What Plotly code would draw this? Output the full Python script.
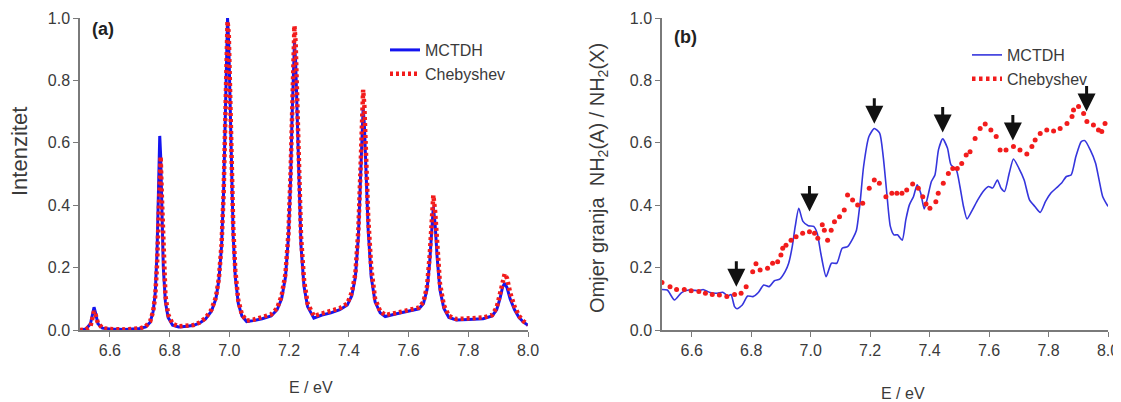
import plotly.graph_objects as go

# ---------------- Panel (a): spectra ----------------
a_x = [6.500, 6.520, 6.535, 6.542, 6.547, 6.552, 6.560, 6.575, 6.600, 6.650, 6.700, 6.720, 6.735, 6.745,
       6.752, 6.758, 6.763, 6.767, 6.770, 6.774, 6.779, 6.786, 6.795, 6.810, 6.830, 6.860, 6.880, 6.900,
       6.920, 6.940, 6.955, 6.965, 6.974, 6.981, 6.986, 6.990, 6.994, 6.998, 7.002, 7.007, 7.013, 7.020,
       7.030, 7.042, 7.058, 7.080, 7.110, 7.140, 7.160, 7.175, 7.188, 7.198, 7.205, 7.210, 7.214, 7.218,
       7.222, 7.227, 7.233, 7.240, 7.250, 7.262, 7.283, 7.310, 7.340, 7.370, 7.395, 7.410, 7.422, 7.432,
       7.439, 7.444, 7.448, 7.452, 7.458, 7.465, 7.475, 7.488, 7.505, 7.522, 7.560, 7.600, 7.635, 7.650,
       7.662, 7.671, 7.677, 7.683, 7.689, 7.696, 7.705, 7.718, 7.735, 7.760, 7.800, 7.850, 7.880, 7.895,
       7.906, 7.915, 7.922, 7.930, 7.940, 7.955, 7.970, 7.985, 8.000]
a_mctdh = [0.000, 0.003, 0.020, 0.055, 0.073, 0.055, 0.020, 0.006, 0.003, 0.002, 0.005, 0.010, 0.025, 0.060,
           0.120, 0.250, 0.450, 0.622, 0.560, 0.380, 0.200, 0.090, 0.040, 0.015, 0.010, 0.012, 0.015, 0.022,
           0.035, 0.060, 0.100, 0.160, 0.270, 0.450, 0.700, 0.900, 1.000, 0.920, 0.740, 0.500, 0.300, 0.170,
           0.085, 0.045, 0.027, 0.030, 0.036, 0.045, 0.065, 0.100, 0.170, 0.300, 0.480, 0.680, 0.850, 0.920,
           0.860, 0.680, 0.450, 0.270, 0.140, 0.075, 0.038, 0.048, 0.055, 0.065, 0.080, 0.110, 0.170, 0.300,
           0.480, 0.650, 0.712, 0.660, 0.500, 0.320, 0.170, 0.090, 0.055, 0.043, 0.052, 0.060, 0.068, 0.085,
           0.130, 0.220, 0.330, 0.395, 0.340, 0.230, 0.130, 0.070, 0.040, 0.032, 0.034, 0.036, 0.045, 0.065,
           0.100, 0.138, 0.150, 0.135, 0.100, 0.065, 0.040, 0.025, 0.015]
a_cheb = [0.000, 0.002, 0.012, 0.040, 0.060, 0.050, 0.022, 0.006, 0.003, 0.002, 0.005, 0.012, 0.028, 0.060,
          0.110, 0.210, 0.380, 0.520, 0.556, 0.430, 0.240, 0.110, 0.050, 0.020, 0.012, 0.013, 0.016, 0.024,
          0.038, 0.065, 0.105, 0.165, 0.275, 0.440, 0.680, 0.880, 0.990, 0.950, 0.780, 0.540, 0.330, 0.190,
          0.095, 0.050, 0.030, 0.033, 0.040, 0.050, 0.070, 0.110, 0.180, 0.310, 0.500, 0.720, 0.900, 0.975,
          0.920, 0.730, 0.490, 0.300, 0.160, 0.085, 0.045, 0.052, 0.060, 0.070, 0.085, 0.120, 0.180, 0.320,
          0.510, 0.700, 0.770, 0.720, 0.550, 0.360, 0.200, 0.100, 0.060, 0.048, 0.055, 0.063, 0.072, 0.090,
          0.140, 0.240, 0.360, 0.432, 0.380, 0.260, 0.150, 0.080, 0.045, 0.035, 0.037, 0.040, 0.048, 0.072,
          0.115, 0.160, 0.180, 0.165, 0.120, 0.075, 0.045, 0.028, 0.017]

# ---------------- Panel (b): branching ratio ----------------
b_mctdh_x = [6.500, 6.518, 6.542, 6.566, 6.590, 6.626, 6.638, 6.662, 6.686, 6.704, 6.722, 6.732, 6.744, 6.752,
             6.770, 6.788, 6.806, 6.824, 6.842, 6.860, 6.878, 6.896, 6.914, 6.926, 6.938, 6.948, 6.960, 6.974,
             6.992, 7.010, 7.022, 7.034, 7.052, 7.070, 7.088, 7.106, 7.124, 7.142, 7.154, 7.166, 7.178, 7.196,
             7.214, 7.232, 7.244, 7.256, 7.268, 7.280, 7.292, 7.308, 7.320, 7.332, 7.346, 7.358, 7.370, 7.382,
             7.394, 7.406, 7.418, 7.430, 7.444, 7.460, 7.472, 7.490, 7.502, 7.514, 7.526, 7.544, 7.562, 7.580,
             7.598, 7.612, 7.628, 7.640, 7.652, 7.668, 7.682, 7.700, 7.718, 7.736, 7.754, 7.772, 7.790, 7.808,
             7.826, 7.844, 7.860, 7.876, 7.892, 7.910, 7.922, 7.940, 7.958, 7.970, 7.982, 8.000]
b_mctdh = [0.130, 0.128, 0.096, 0.120, 0.128, 0.126, 0.130, 0.120, 0.118, 0.121, 0.109, 0.114, 0.075, 0.068,
           0.080, 0.109, 0.107, 0.120, 0.144, 0.139, 0.158, 0.163, 0.187, 0.214, 0.267, 0.332, 0.390, 0.348,
           0.334, 0.332, 0.310, 0.246, 0.171, 0.214, 0.214, 0.262, 0.267, 0.294, 0.320, 0.406, 0.524, 0.620,
           0.646, 0.631, 0.556, 0.439, 0.332, 0.305, 0.305, 0.288, 0.353, 0.401, 0.428, 0.465, 0.439, 0.388,
           0.428, 0.476, 0.497, 0.578, 0.613, 0.583, 0.529, 0.513, 0.460, 0.396, 0.356, 0.385, 0.417, 0.444,
           0.460, 0.455, 0.481, 0.455, 0.444, 0.503, 0.548, 0.519, 0.481, 0.417, 0.396, 0.377, 0.412, 0.439,
           0.455, 0.471, 0.492, 0.497, 0.556, 0.604, 0.607, 0.578, 0.535, 0.481, 0.428, 0.396]
b_cheb_x = [6.500, 6.527, 6.549, 6.575, 6.598, 6.624, 6.646, 6.669, 6.693, 6.718, 6.744, 6.766, 6.783, 6.805,
            6.816, 6.830, 6.855, 6.872, 6.889, 6.900, 6.906, 6.917, 6.934, 6.951, 6.973, 6.996, 7.013, 7.024,
            7.039, 7.046, 7.057, 7.069, 7.080, 7.097, 7.113, 7.124, 7.141, 7.158, 7.175, 7.197, 7.214, 7.231,
            7.253, 7.273, 7.290, 7.307, 7.323, 7.343, 7.362, 7.377, 7.388, 7.401, 7.421, 7.429, 7.446, 7.463,
            7.478, 7.493, 7.508, 7.523, 7.536, 7.553, 7.570, 7.587, 7.606, 7.624, 7.637, 7.657, 7.682, 7.704,
            7.727, 7.744, 7.755, 7.772, 7.794, 7.817, 7.839, 7.862, 7.879, 7.884, 7.901, 7.918, 7.929, 7.951,
            7.968, 7.979, 7.990]
b_cheb = [0.152, 0.139, 0.130, 0.130, 0.126, 0.123, 0.118, 0.114, 0.112, 0.107, 0.114, 0.118, 0.139, 0.187,
          0.212, 0.192, 0.198, 0.214, 0.219, 0.240, 0.262, 0.272, 0.288, 0.299, 0.310, 0.315, 0.310, 0.294,
          0.337, 0.320, 0.288, 0.320, 0.347, 0.363, 0.385, 0.433, 0.417, 0.401, 0.406, 0.454, 0.481, 0.470,
          0.427, 0.438, 0.438, 0.438, 0.449, 0.468, 0.454, 0.427, 0.404, 0.390, 0.411, 0.438, 0.470, 0.502,
          0.518, 0.518, 0.534, 0.561, 0.571, 0.614, 0.646, 0.660, 0.641, 0.620, 0.577, 0.577, 0.588, 0.577,
          0.564, 0.588, 0.609, 0.630, 0.641, 0.638, 0.646, 0.662, 0.684, 0.705, 0.716, 0.694, 0.668, 0.657,
          0.641, 0.636, 0.662]

# arrow tips (x, y) in panel (b)
arrow_x = [6.750, 6.996, 7.214, 7.444, 7.680, 7.928]
arrow_y = [0.139, 0.380, 0.661, 0.633, 0.607, 0.700]

x_ticks = [6.6, 6.8, 7.0, 7.2, 7.4, 7.6, 7.8, 8.0]
y_ticks = [0.0, 0.2, 0.4, 0.6, 0.8, 1.0]

assert len(a_x) == len(a_mctdh) == len(a_cheb)
assert len(b_mctdh_x) == len(b_mctdh)
assert len(b_cheb_x) == len(b_cheb)

# the page body has an 8px margin; the figure is sized so it fits the window exactly
OFF = 8
W, H = 1121 - OFF, 402 - OFF


def px(x):  # window pixel x -> paper fraction
    return (x - OFF) / W


def py(y):  # window pixel y -> paper fraction
    return 1 - (y - OFF) / H


FONT = "Liberation Sans, Arial, sans-serif"
TXT = "#3a3a3a"
BLUE_A = "#1414f0"
BLUE_B = "#3535dd"
RED = "#f21c1c"

fig = go.Figure()

fig.add_trace(go.Scatter(x=a_x, y=a_mctdh, mode="lines", name="MCTDH",
                         line=dict(color=BLUE_A, width=3), xaxis="x", yaxis="y", legend="legend"))
fig.add_trace(go.Scatter(x=a_x, y=a_cheb, mode="lines", name="Chebyshev",
                         line=dict(color=RED, width=4.5, dash="3px,3px"), xaxis="x", yaxis="y",
                         legend="legend"))

fig.add_trace(go.Scatter(x=b_mctdh_x, y=b_mctdh, mode="lines", name="MCTDH",
                         line=dict(color=BLUE_B, width=1.6, shape="spline", smoothing=0.6),
                         xaxis="x2", yaxis="y2", legend="legend2"))
fig.add_trace(go.Scatter(x=b_cheb_x, y=b_cheb, mode="markers", name="Chebyshev",
                         marker=dict(color=RED, size=5), xaxis="x2", yaxis="y2",
                         showlegend=False, legendgroup="cb"))
fig.add_trace(go.Scatter(x=[None], y=[None], mode="lines", name="Chebyshev",
                         line=dict(color=RED, width=4.5, dash="3.5px,3.5px"),
                         xaxis="x2", yaxis="y2", legend="legend2", legendgroup="cb"))

x1 = (px(80), px(528))
x2 = (px(662), px(1108))
ydom = (py(330), py(18))

axis_common = dict(showgrid=False, zeroline=False, showline=True, linecolor="#7a7a7a", linewidth=1.5,
                   ticks="outside", ticklen=5, tickwidth=1.2, tickcolor="#7a7a7a",
                   tickfont=dict(family=FONT, size=16, color=TXT), automargin=False)

fig.update_layout(
    width=W, height=H,
    margin=dict(l=0, r=0, t=0, b=0),
    paper_bgcolor="white", plot_bgcolor="white",
    font=dict(family=FONT, color=TXT),
    xaxis=dict(domain=x1, range=[6.5, 8.0], tickvals=x_ticks, tickformat=".1f", anchor="y", **axis_common),
    yaxis=dict(domain=ydom, range=[0, 1.0], tickvals=y_ticks, tickformat=".1f", anchor="x", **axis_common),
    xaxis2=dict(domain=x2, range=[6.5, 8.0], tickvals=x_ticks, tickformat=".1f", anchor="y2", **axis_common),
    yaxis2=dict(domain=ydom, range=[0, 1.0], tickvals=y_ticks, tickformat=".1f", anchor="x2", **axis_common),
    legend=dict(x=px(385), y=py(33), xanchor="left", yanchor="top", bgcolor="rgba(0,0,0,0)",
                font=dict(family=FONT, size=16, color=TXT), tracegroupgap=0, itemwidth=30),
    legend2=dict(x=px(967), y=py(38), xanchor="left", yanchor="top", bgcolor="rgba(0,0,0,0)",
                 font=dict(family=FONT, size=16, color=TXT), tracegroupgap=0, itemwidth=30),
    showlegend=True,
)


def label(text, x, y, size, color=TXT, angle=0):
    return dict(text=text, x=px(x), y=py(y), xref="paper", yref="paper", showarrow=False,
                xanchor="center", yanchor="middle", textangle=angle,
                font=dict(family=FONT, size=size, color=color))


ann = [
    label("<b>(a)</b>", 103, 29, 18, "#222"),
    label("<b>(b)</b>", 685, 37, 18, "#222"),
    label("Intenzitet", 19, 152, 22, angle=-90),
    label("Omjer granja  NH<sub>2</sub>(A) / NH<sub>2</sub>(X)", 598, 178, 20, angle=-90),
    label("E / eV", 311, 387, 16),
    label("E / eV", 903, 393, 16),
]
for ax_, ay_ in zip(arrow_x, arrow_y):
    ann.append(dict(x=ax_, y=ay_, xref="x2", yref="y2", text="", showarrow=True, ax=0, ay=-27,
                    arrowhead=2, arrowsize=1.2, arrowwidth=3, arrowcolor="#111", standoff=0))
fig.update_layout(annotations=ann)

fig.write_html("out.html")
